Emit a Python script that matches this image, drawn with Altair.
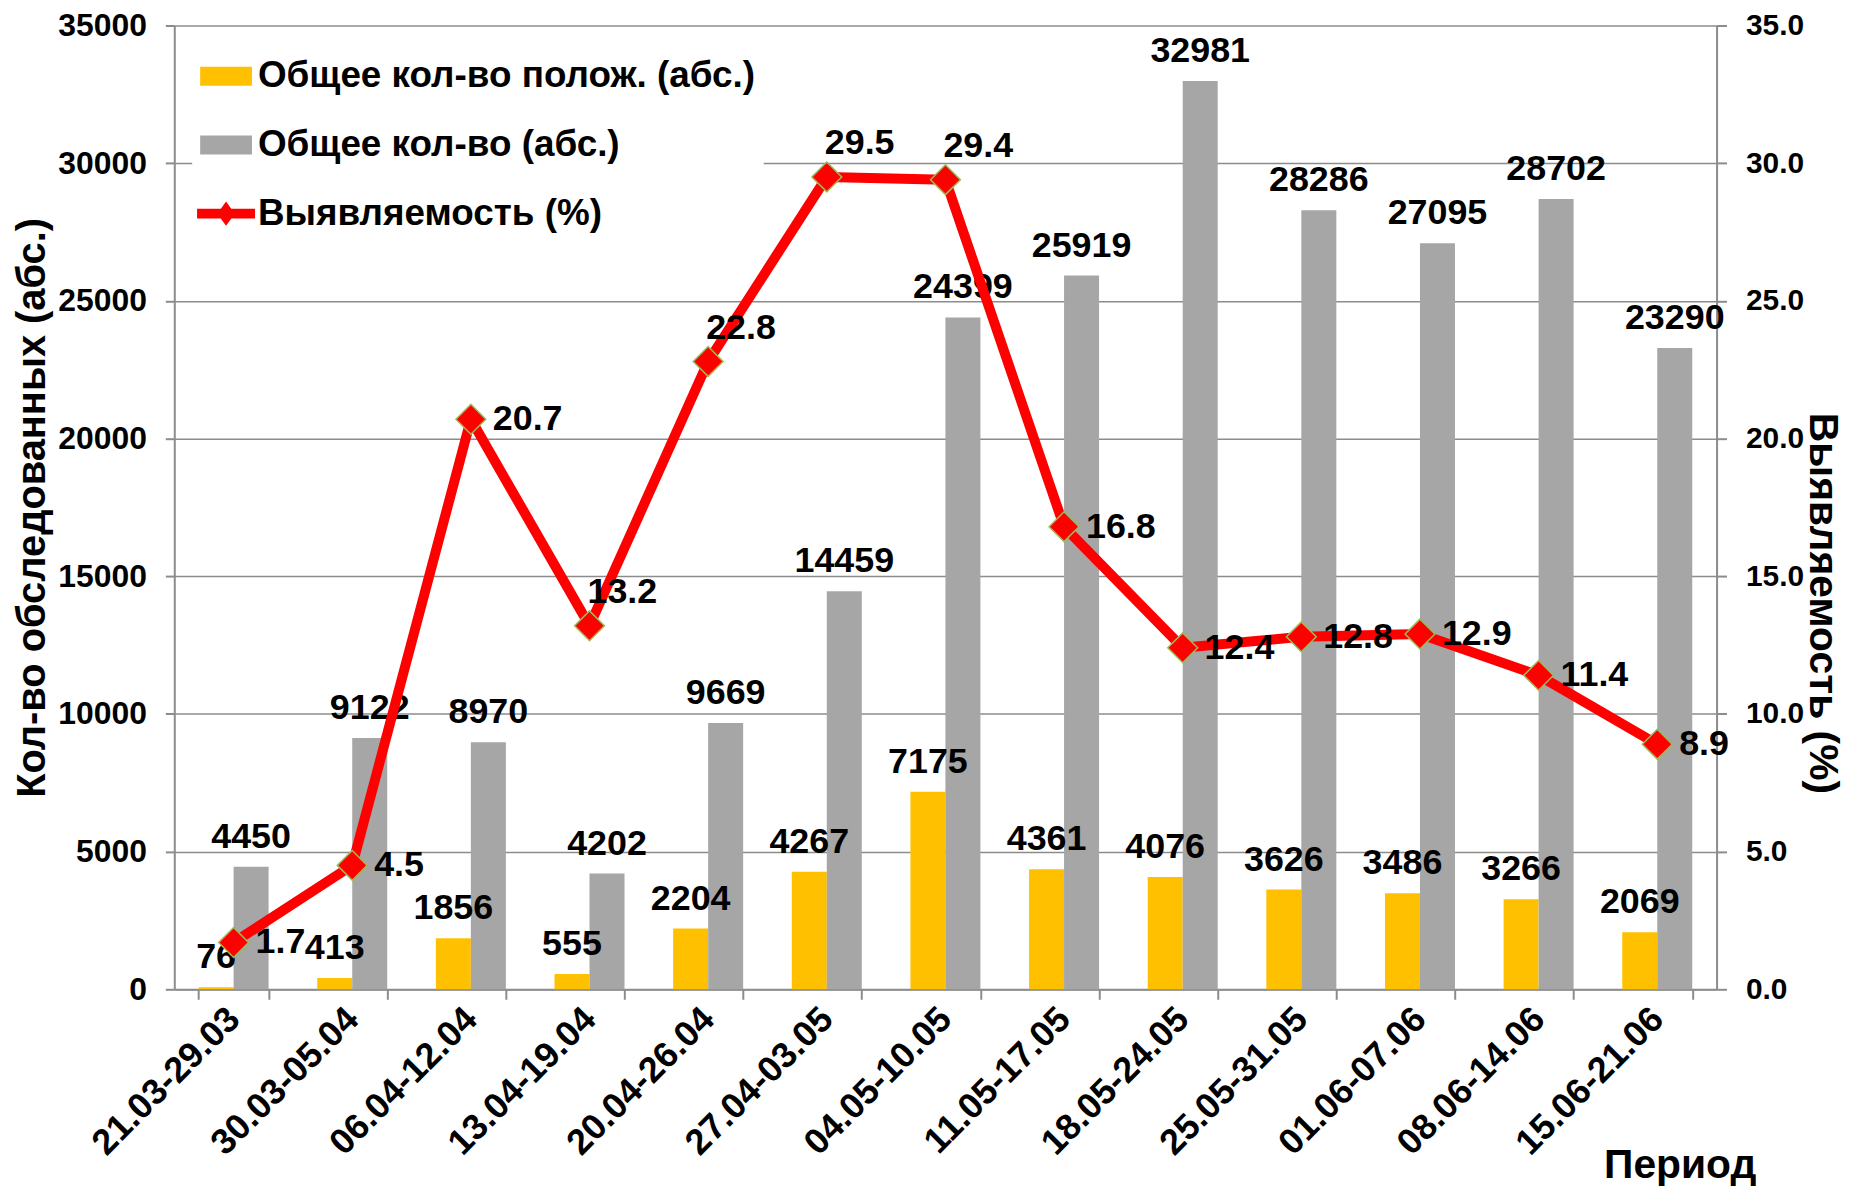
import altair as alt
import pandas as pd

# ---- data ----
categories = ["21.03-29.03", "30.03-05.04", "06.04-12.04", "13.04-19.04", "20.04-26.04",
              "27.04-03.05", "04.05-10.05", "11.05-17.05", "18.05-24.05", "25.05-31.05",
              "01.06-07.06", "08.06-14.06", "15.06-21.06"]
positive = [76, 413, 1856, 555, 2204, 4267, 7175, 4361, 4076, 3626, 3486, 3266, 2069]
total = [4450, 9122, 8970, 4202, 9669, 14459, 24399, 25919, 32981, 28286, 27095, 28702, 23290]
rate = [1.7, 4.5, 20.7, 13.2, 22.8, 29.5, 29.4, 16.8, 12.4, 12.8, 12.9, 11.4, 8.9]

S_POS = "Общее кол-во полож. (абс.)"
S_TOT = "Общее кол-во (абс.)"
S_RATE = "Выявляемость (%)"
series_names = [S_POS, S_TOT, S_RATE]
series_colors = ["#FFC000", "#A6A6A6", "#FF0000"]

# label placement style: these rate labels sit above their point
labels_above = {"13.04-19.04", "20.04-26.04", "27.04-03.05", "04.05-10.05"}

bars_df = pd.DataFrame({
    "period": categories * 2,
    "series": [S_POS] * len(categories) + [S_TOT] * len(categories),
    "value": positive + total,
})
line_df = pd.DataFrame({
    "period": categories,
    "rate": rate,
    "series": [S_RATE] * len(categories),
    "above": [c in labels_above for c in categories],
})

FONT = "Liberation Sans"
W, H = 1549, 968
GRID = "#8c8c8c"

RECT_PATH = "M-1,-0.365H1V0.365H-1Z"
LINE_PATH = "M-1.12,-0.19H1.12V0.19H-1.12Z M0,-0.47L0.34,0L0,0.47L-0.34,0Z"

legend_spec = alt.Legend(
    title=None, orient="none", legendX=18, legendY=17, fillColor="white",
    padding=8, symbolSize=2704, symbolOpacity=1, symbolStrokeWidth=0,
    labelFont=FONT, labelFontSize=37, labelFontWeight="bold", labelColor="black",
    labelOffset=6, rowPadding=25, labelLimit=900,
)
color_scale = alt.Scale(domain=series_names, range=series_colors)
shape_scale = alt.Scale(domain=series_names, range=[RECT_PATH, RECT_PATH, LINE_PATH])

x_scale = alt.Scale(paddingInner=0.41, paddingOuter=0.205)
x_axis = alt.Axis(
    title="Период", labelAngle=-45, labelAlign="right", labelBaseline="middle",
    labelFontSize=36, labelFontWeight="bold", labelFont=FONT, labelColor="black",
    labelPadding=14, labelLimit=600, tickBand="extent", tickSize=10, tickColor=GRID, tickWidth=2,
    domainColor=GRID, domainWidth=2, grid=False,
    titleFont=FONT, titleFontSize=41, titleFontWeight="bold", titleColor="black",
    titleX=1512, titleY=177, titleAlign="center", titleBaseline="middle", titleAngle=0,
)
x_enc = alt.X("period:N", sort=categories, scale=x_scale, axis=x_axis)
color_enc = alt.Color("series:N", scale=color_scale, legend=legend_spec)

y_left = alt.Y(
    "value:Q", scale=alt.Scale(domain=[0, 35000], nice=False),
    axis=alt.Axis(
        title="Кол-во обследованных (абс.)", values=list(range(0, 35001, 5000)), format="d",
        grid=True, gridColor=GRID, gridWidth=1.5, domainColor=GRID, domainWidth=2,
        tickColor=GRID, tickWidth=2, tickSize=9, labelPadding=19,
        labelFont=FONT, labelFontSize=32, labelFontWeight="bold", labelColor="black",
        titleFont=FONT, titleFontSize=40, titleFontWeight="bold", titleColor="black",
        titleAngle=-90, titleX=-142, titleY=H / 2, titleAlign="center", titleBaseline="middle",
    ),
)
y_right = alt.Y(
    "rate:Q", scale=alt.Scale(domain=[0, 35], nice=False),
    axis=alt.Axis(
        orient="right", title=S_RATE, values=list(range(0, 36, 5)), format=".1f",
        grid=False, domainColor=GRID, domainWidth=2, tickColor=GRID, tickWidth=2, tickSize=10,
        labelPadding=19, labelFont=FONT, labelFontSize=30, labelFontWeight="bold", labelColor="black",
        titleFont=FONT, titleFontSize=41, titleFontWeight="bold", titleColor="black",
        titleAngle=90, titleX=105, titleY=580, titleAlign="center", titleBaseline="middle",
    ),
)
xoff = alt.XOffset("series:N", sort=[S_POS, S_TOT], scale=alt.Scale(paddingInner=0, paddingOuter=0))

bars = alt.Chart(bars_df).mark_bar().encode(x=x_enc, xOffset=xoff, y=y_left, color=color_enc)
bar_text = alt.Chart(bars_df).mark_text(
    font=FONT, fontSize=36, fontWeight="bold", color="black", baseline="middle", dy=-30
).encode(x=x_enc, xOffset=xoff, y=y_left, text=alt.Text("value:Q", format="d"))

left = alt.layer(bars, bar_text)

line = alt.Chart(line_df).mark_line(color="#FF0000", strokeWidth=10, strokeJoin="round").encode(x=x_enc, y=y_right)
points = alt.Chart(line_df).mark_point(
    shape="diamond", filled=True, size=900, fill="#FF0000", stroke="#9BBB59", strokeWidth=1.5, opacity=1
).encode(x=x_enc, y=y_right)
legend_layer = alt.Chart(line_df).mark_point(filled=True, opacity=0).encode(
    x=x_enc, y=y_right,
    color=color_enc,
    shape=alt.Shape("series:N", scale=shape_scale, legend=legend_spec),
)
text_right = alt.Chart(line_df).transform_filter("!datum.above").mark_text(
    font=FONT, fontSize=36, fontWeight="bold", color="black", align="left", baseline="middle", dx=22
).encode(x=x_enc, y=y_right, text=alt.Text("rate:Q", format=".1f"))
text_above = alt.Chart(line_df).transform_filter("datum.above").mark_text(
    font=FONT, fontSize=36, fontWeight="bold", color="black", align="left", baseline="middle", dx=-2, dy=-34
).encode(x=x_enc, y=y_right, text=alt.Text("rate:Q", format=".1f"))

right = alt.layer(line, points, legend_layer, text_right, text_above)

chart = alt.layer(left, right).resolve_scale(y="independent").properties(
    width=W, height=H,
    autosize=alt.AutoSizeParams(type="none"),
    padding={"left": 167, "top": 15, "right": 131, "bottom": 195},
    background="white",
).configure_view(stroke=None)

chart.save("out.html", embed_options={"renderer": "svg", "actions": False})
